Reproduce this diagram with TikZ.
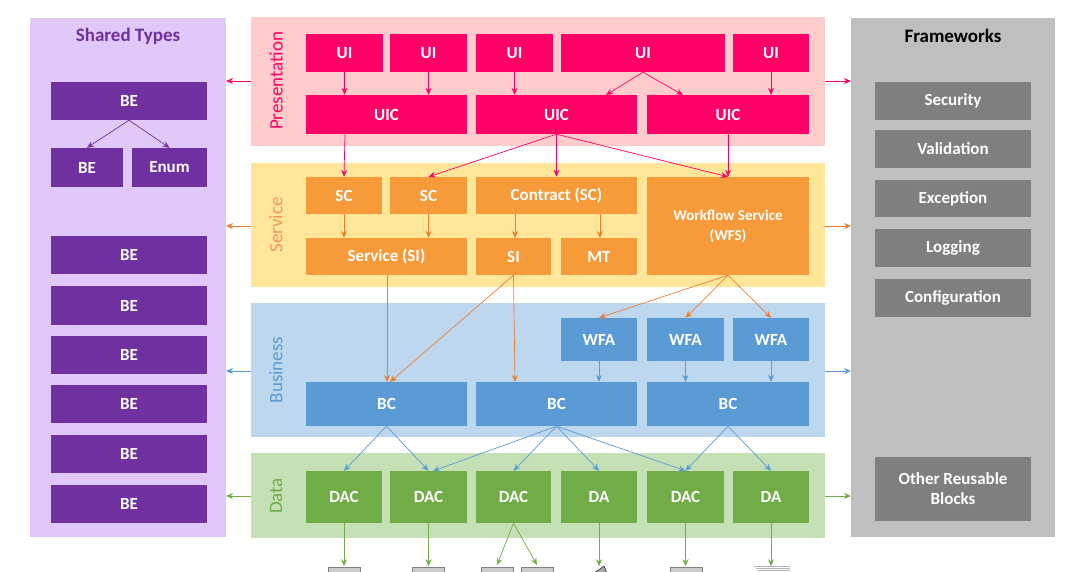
\documentclass[tikz,border=0pt]{standalone}
\usepackage{fontspec}
\setmainfont{Carlito}
\usetikzlibrary{arrows.meta}
\definecolor{pk}{HTML}{FF0066}\definecolor{pkbg}{HTML}{FFCCCC}
\definecolor{or}{HTML}{F79A3A}\definecolor{orbg}{HTML}{FFE699}\definecolor{orl}{HTML}{ED7D31}
\definecolor{bl}{HTML}{5B9BD5}\definecolor{blbg}{HTML}{BDD7EE}
\definecolor{gr}{HTML}{70AD47}\definecolor{grbg}{HTML}{C5E0B4}
\definecolor{pu}{HTML}{7030A0}\definecolor{pubg}{HTML}{E1C8FA}
\definecolor{gy}{HTML}{7F7F7F}\definecolor{gybg}{HTML}{BFBFBF}
\begin{document}
\begin{tikzpicture}[x=1pt,y=-1pt,
 box/.style={draw=none,inner sep=0pt,text=white,font=\bfseries\fontsize{17}{20}\selectfont,align=center},
 ar/.style={-{Stealth[length=7pt,width=6pt]},line width=0.7pt}]
\useasboundingbox (0,0) rectangle (1086,571);
\def\B#1#2#3#4#5#6#7{\node[box,fill=#6,minimum width=#3-#2,minimum height=#5-#4] (#1) at ({(#2+#3)/2},{(#4+#5)/2}) {#7};}
% panels
\fill[pubg] (30,18) rectangle (226,537);
\node[text=pu,font=\bfseries\fontsize{19}{22}\selectfont] (tst) at (128,36) {Shared Types};
\fill[gybg] (851,18) rectangle (1055,537);
\node[font=\bfseries\fontsize{19}{22}\selectfont] (tfw) at (953,36) {Frameworks};
\fill[pkbg] (251,17) rectangle (825,146);
\fill[orbg] (251,163) rectangle (825,287);
\fill[blbg] (251,303) rectangle (825,437);
\fill[grbg] (251,453) rectangle (825,538);
\node[rotate=90,text=pk,font=\fontsize{19}{22}\selectfont] (lp) at (276,81) {Presentation};
\node[rotate=90,text=orl!80,font=\fontsize{19}{22}\selectfont] (ls) at (276,225) {Service};
\node[rotate=90,text=bl,font=\fontsize{19}{22}\selectfont] (lb) at (276,370) {Business};
\node[rotate=90,text=gr,font=\fontsize{19}{22}\selectfont] (ld) at (276,496) {Data};
% side arrows
\foreach \y/\c/\n in {81/pk/p,226/orl/s,371/bl/b,496/gr/d}{
 \coordinate (l\n a) at (251,\y); \coordinate (l\n b) at (226,\y);
 \coordinate (r\n a) at (825,\y); \coordinate (r\n b) at (851,\y);
 \draw[ar,\c] (l\n a)--(l\n b); \draw[ar,\c] (r\n a)--(r\n b);}
% shared types
\B{be0}{51}{207}{82}{120}{pu}{BE}
\B{be1}{51}{123}{148}{187}{pu}{BE}
\B{en}{132}{207}{148}{187}{pu}{Enum}
\draw[pu,ar] (be0.south)--(be1.north);
\draw[pu,ar] (be0.south)--(en.north);
\foreach \i/\a/\b in {2/236/274,3/286/325,4/336/374,5/385/423,6/435/473,7/485/523}{\B{be\i}{51}{207}{\a}{\b}{pu}{BE}}
% frameworks
\B{f1}{875}{1031}{82}{120}{gy}{Security}
\B{f2}{875}{1031}{130}{168}{gy}{Validation}
\B{f3}{875}{1031}{180}{217}{gy}{Exception}
\B{f4}{875}{1031}{229}{267}{gy}{Logging}
\B{f5}{875}{1031}{279}{317}{gy}{Configuration}
\B{f6}{875}{1031}{457}{521}{gy}{Other Reusable\\Blocks}
% presentation
\B{ui1}{306}{383}{34}{72}{pk}{UI}
\B{ui2}{390}{467}{34}{72}{pk}{UI}
\B{ui3}{476}{553}{34}{72}{pk}{UI}
\B{ui4}{561}{725}{34}{72}{pk}{UI}
\B{ui5}{733}{809}{34}{72}{pk}{UI}
\B{uic1}{306}{467}{95}{134}{pk}{UIC}
\B{uic2}{476}{637}{95}{134}{pk}{UIC}
\B{uic3}{647}{809}{95}{134}{pk}{UIC}
% service
\B{sc1}{306}{382}{177}{214}{or}{SC}
\B{sc2}{390}{467}{177}{214}{or}{SC}
\B{con}{476}{637}{177}{214}{or}{Contract (SC)}
\B{wfs}{647}{809}{177}{275}{or}{\fontsize{15}{19}\selectfont Workflow Service\\\fontsize{15}{19}\selectfont(WFS)}
\B{ssi}{306}{467}{238}{275}{or}{Service (SI)}
\B{si}{476}{551}{238}{275}{or}{SI}
\B{mt}{561}{637}{238}{275}{or}{MT}
% business
\B{wfa1}{561}{637}{318}{361}{bl}{WFA}
\B{wfa2}{647}{724}{318}{361}{bl}{WFA}
\B{wfa3}{733}{809}{318}{361}{bl}{WFA}
\B{bc1}{306}{467}{382}{426}{bl}{BC}
\B{bc2}{476}{637}{382}{426}{bl}{BC}
\B{bc3}{647}{809}{382}{426}{bl}{BC}
% data
\B{d1}{306}{382}{471}{523}{gr}{DAC}
\B{d2}{390}{467}{471}{523}{gr}{DAC}
\B{d3}{476}{551}{471}{523}{gr}{DAC}
\B{d4}{561}{637}{471}{523}{gr}{DA}
\B{d5}{647}{724}{471}{523}{gr}{DAC}
\B{d6}{733}{809}{471}{523}{gr}{DA}
% presentation arrows
\begin{scope}[pk,ar]
\draw (ui1.south)--(ui1.south|-uic1.north);
\draw (ui2.south)--(ui2.south|-uic1.north);
\draw (ui3.south)--(ui3.south|-uic2.north);
\draw (ui4.south)--(606,95);
\draw (ui4.south)--(683,95);
\draw (ui5.south)--(ui5.south|-uic3.north);
\draw (345,134)--(sc1.north);
\draw (uic2.south)--(sc2.north);
\draw (uic2.south)--(con.north);
\draw (uic2.south)--(wfs.north);
\draw (uic3.south)--(wfs.north);
\end{scope}
\begin{scope}[orl,ar]
\draw (sc1.south)--(sc1.south|-ssi.north);
\draw (sc2.south)--(sc2.south|-ssi.north);
\draw (515,214)--(515,238);
\draw (600,214)--(600,238);
\draw (387,275)--(387,382);
\draw (si.south)--(390,382);
\draw (si.south)--(515,382);
\draw (wfs.south)--(wfa1.north);
\draw (wfs.south)--(wfa2.north);
\draw (wfs.south)--(wfa3.north);
\end{scope}
\begin{scope}[bl,ar]
\draw (wfa1.south)--(wfa1.south|-bc2.north);
\draw (wfa2.south)--(wfa2.south|-bc3.north);
\draw (wfa3.south)--(wfa3.south|-bc3.north);
\draw (bc1.south)--(d1.north);
\draw (bc1.south)--(d2.north);
\draw (bc2.south)--(433,471);
\draw (bc2.south)--(d3.north);
\draw (bc2.south)--(d4.north);
\draw (bc2.south)--(d5.north);
\draw (bc3.south)--(d5.north);
\draw (bc3.south)--(d6.north);
\end{scope}
\begin{scope}[gr,ar]
\foreach \n in {1,2,4,5,6}{\path (d\n.south) ++(0,43) coordinate (e\n); \draw (d\n.south)--(e\n);}
\coordinate (e3a) at (497,565); \coordinate (e3b) at (537,565);
\draw (d3.south)--(e3a); \draw (d3.south)--(e3b);
\end{scope}
% storage icons (cut)
\foreach \x in {344,428,497,537,686}{\filldraw[fill=gray!40,draw=gray] (\x-16,567) rectangle (\x+16,573);}
\filldraw[fill=gray!70,draw=black] (594,573) -- (604,566) -- (607,573) -- cycle;
\foreach \k in {0,2,4}{\draw[gray!60,line width=0.8pt] (754+\k,566+\k) -- (790,566+\k);}
\end{tikzpicture}
\end{document}
